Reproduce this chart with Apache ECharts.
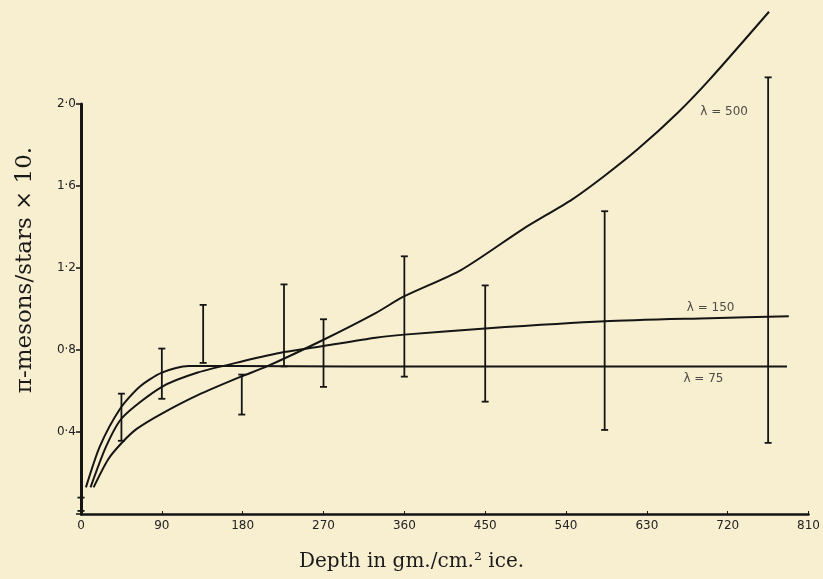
<!DOCTYPE html>
<html>
<head>
<meta charset="utf-8">
<script src="https://cdn.jsdelivr.net/npm/echarts@6/dist/echarts.min.js"></script>
<style>
html,body{margin:0;padding:0;background:#f7efcf;}
#c{width:823px;height:579px;}
</style>
</head>
<body>
<div id="c"></div>
<script>
// Depth (gm./cm.^2 ice) ticks
const xTicks = [0, 90, 180, 270, 360, 450, 540, 630, 720, 810];
const yTicks = [0.4, 0.8, 1.2, 1.6, 2.0];

// Theoretical curves [depth, pi-mesons/stars x10]
const lambda75 = [[5.5,0.13],[21,0.33],[43,0.51],[65,0.62],[90,0.69],[120,0.722],[170,0.722],[300,0.72],[450,0.72],[600,0.72],[786,0.72]];
const lambda150 = [[10.6,0.13],[28,0.33],[46,0.47],[90,0.62],[130,0.69],[180,0.745],[226,0.79],[270,0.82],[328,0.86],[360,0.875],[450,0.905],[583,0.94],[700,0.955],[788,0.965]];
const lambda500 = [[14,0.13],[30,0.265],[45,0.345],[62,0.415],[90,0.49],[130,0.58],[178,0.67],[207,0.72],[270,0.85],[328,0.98],[359,1.06],[423,1.19],[492,1.39],[547,1.535],[583,1.65],[620,1.78],[665,1.96],[700,2.12],[766,2.45]];

// Experimental points: depth, low, high
const errDepth = [0, 45, 90, 136, 179, 226, 270, 360, 450, 583, 765];
const errLow   = [0.015, 0.357, 0.562, 0.737, 0.485, 0.72, 0.62, 0.67, 0.548, 0.41, 0.347];
const errHigh  = [0.08, 0.587, 0.807, 1.02, 0.68, 1.12, 0.95, 1.257, 1.115, 1.477, 2.13];

// Curve labels
const curveLabels = ['λ = 500', 'λ = 150', 'λ = 75'];
const curveLabelPos = [[716, 1.96], [701, 1.005], [693, 0.66]];

const ink = '#151515';
const chart = echarts.init(document.getElementById('c'));

const lineSeries = (data) => ({
  type: 'line', data: data, symbol: 'none', smooth: 0.25,
  clip: false, lineStyle: {color: ink, width: 2}, silent: true, z: 3
});

chart.setOption({
  backgroundColor: '#f7efcf',
  animation: false,
  grid: {left: 81, right: 6, top: 104, bottom: 65, containLabel: false},
  xAxis: {
    type: 'value', min: 0, max: 810, interval: 90,
    axisLine: {lineStyle: {color: ink, width: 2.5}},
    axisTick: {show: true, inside: true, length: 3, lineStyle: {color: ink, width: 1}},
    axisLabel: {color: '#222', fontSize: 12, fontFamily: 'DejaVu Sans', margin: 6},
    splitLine: {show: false}
  },
  yAxis: {
    type: 'value', min: 0, max: 2.0, interval: 0.4,
    axisLine: {show: true, lineStyle: {color: ink, width: 3}},
    axisTick: {show: true, length: 5, lineStyle: {color: ink, width: 1.5}},
    axisLabel: {color: '#222', fontSize: 12, fontFamily: 'DejaVu Sans', margin: 5,
      formatter: v => (v === 0 ? '' : v.toFixed(1).replace('.', '·'))},
    splitLine: {show: false}
  },
  graphic: [
    {type: 'text', left: 299, top: 552,
     style: {text: 'Depth in gm./cm.² ice.', font: '20px "DejaVu Serif"', fill: '#1a1a1a'}},
    {type: 'text', x: 25, y: 270, rotation: Math.PI / 2,
     style: {text: 'π-mesons/stars × 10.', font: '23px "DejaVu Serif"', fill: '#1a1a1a',
       align: 'center', verticalAlign: 'middle'}}
  ],
  series: [
    lineSeries(lambda75),
    lineSeries(lambda150),
    lineSeries(lambda500),
    {
      type: 'custom', clip: false, silent: true, z: 4,
      data: errDepth.map((d, i) => [d, errLow[i], errHigh[i]]),
      renderItem: function (params, api) {
        const lo = api.coord([api.value(0), api.value(1)]);
        const hi = api.coord([api.value(0), api.value(2)]);
        const cap = 3.5;
        const st = {stroke: ink, lineWidth: 1.8};
        return {type: 'group', children: [
          {type: 'line', shape: {x1: lo[0], y1: lo[1], x2: hi[0], y2: hi[1]}, style: st},
          {type: 'line', shape: {x1: lo[0] - cap, y1: lo[1], x2: lo[0] + cap, y2: lo[1]}, style: st},
          {type: 'line', shape: {x1: hi[0] - cap, y1: hi[1], x2: hi[0] + cap, y2: hi[1]}, style: st}
        ]};
      }
    },
    {
      type: 'scatter', symbolSize: 0, silent: true, clip: false,
      data: curveLabelPos.map((p, i) => ({value: p, name: curveLabels[i]})),
      label: {show: true, position: 'inside', formatter: '{b}', color: '#222',
        fontSize: 12, fontFamily: 'DejaVu Sans'}
    }
  ]
});
</script>
</body>
</html>
